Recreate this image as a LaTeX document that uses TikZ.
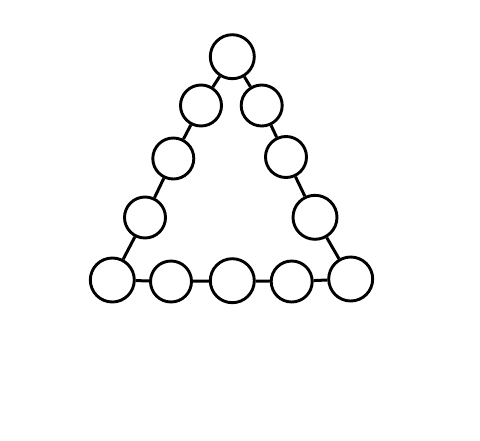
\documentclass[tikz,border=0pt]{standalone}
\begin{document}
\begin{tikzpicture}[x=1pt,y=-1pt,
  ball/.style={circle,draw=black,fill=white,line width=2.9pt,inner sep=0pt},
  big/.style={ball,minimum size=44pt},
  mid/.style={ball,minimum size=41pt},
  link/.style={line width=3pt,draw=black}]
\useasboundingbox (0,0) rectangle (480,440);
\node[big] (t) at (232.3,56.7) {};
\node[mid] (l2) at (201,105.5) {};
\node[mid] (r2) at (261.7,105.5) {};
\node[mid] (l3) at (173.3,158.5) {};
\node[mid] (r3) at (286,157) {};
\node[mid] (l4) at (145,217.5) {};
\node[big] (r4) at (315,217.3) {};
\node[big] (bl) at (112.3,280) {};
\node[mid] (b2) at (171,281.5) {};
\node[big] (b3) at (232.3,280.7) {};
\node[mid] (b4) at (291.7,281.5) {};
\node[big] (br) at (350.7,279) {};
\draw[link] (t) -- (l2);
\draw[link] (l2) -- (l3);
\draw[link] (l3) -- (l4);
\draw[link] (l4) -- (bl);
\draw[link] (t) -- (r2);
\draw[link] (r2) -- (r3);
\draw[link] (r3) -- (r4);
\draw[link] (r4) -- (br);
\draw[link] (bl) -- (b2);
\draw[link] (b2) -- (b3);
\draw[link] (b3) -- (b4);
\draw[link] (b4) -- (br);
\end{tikzpicture}
\end{document}
